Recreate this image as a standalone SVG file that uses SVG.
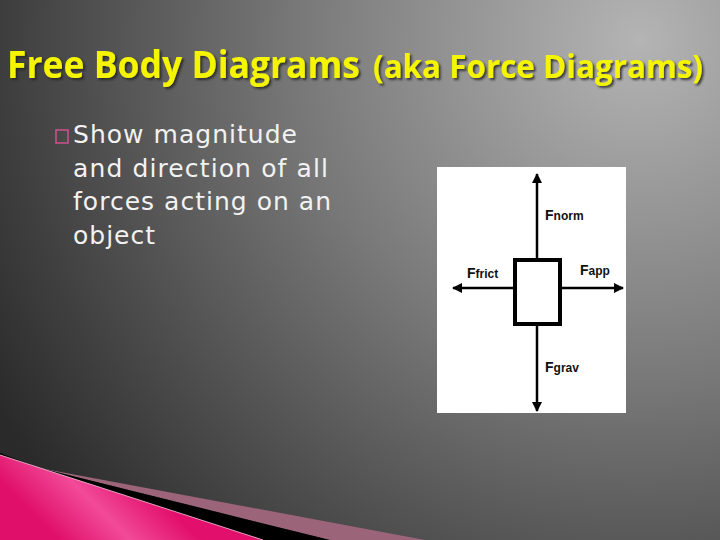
<svg xmlns="http://www.w3.org/2000/svg" width="720" height="540" viewBox="0 0 720 540">
<defs>
<radialGradient id="bg" gradientUnits="userSpaceOnUse" cx="640" cy="40" r="740">
<stop offset="0" stop-color="#b4b4b4"/>
<stop offset="0.45" stop-color="#7a7a7a"/>
<stop offset="0.75" stop-color="#4e4e4e"/>
<stop offset="1" stop-color="#2a2a2a"/>
</radialGradient>
<linearGradient id="pink" gradientUnits="userSpaceOnUse" x1="60" y1="540" x2="130" y2="470">
<stop offset="0" stop-color="#e0106a"/>
<stop offset="0.5" stop-color="#f24a98"/>
<stop offset="1" stop-color="#e2106c"/>
</linearGradient>
<filter id="shadow" x="-5%" y="-20%" width="110%" height="150%">
<feDropShadow dx="2" dy="2" stdDeviation="1" flood-color="#222" flood-opacity="0.8"/>
</filter>
<marker id="ah" viewBox="0 0 10 10" refX="9" refY="5" markerWidth="4" markerHeight="4" orient="auto" markerUnits="strokeWidth">
<path d="M0,0 L10,5 L0,10 z" fill="#000"/>
</marker>
<style>
.title{font-family:"Open Sans","DejaVu Sans",sans-serif;fill:#f5f500;font-weight:bold}
.body{font-family:"DejaVu Sans","Verdana",sans-serif;font-size:25px;fill:#f2f2f2}
.lbl{font-family:"Liberation Sans",Arial,sans-serif;font-weight:bold;fill:#111}
.big{font-size:14px}
.sm{font-size:12px}
.arrow{stroke:#000;stroke-width:2.5;fill:none;marker-end:url(#ah)}
</style>
</defs>
<rect width="720" height="540" fill="url(#bg)"/>
<g id="decor">
<polygon points="50,470 425,540 330,540 40,468" fill="#9c6478"/>
<polygon points="40,468 330,540 263,540 0,455 0,453" fill="#000"/>
<polygon points="0,455 263,540 0,540" fill="url(#pink)"/>
<line x1="0" y1="455" x2="263" y2="540" stroke="#f8c0d8" stroke-width="0.8"/>
</g>
<g id="title" filter="url(#shadow)">
<text class="title" x="7" y="78" font-size="38" textLength="353" lengthAdjust="spacingAndGlyphs">Free Body Diagrams</text>
<text class="title" x="373" y="78" font-size="32" font-weight="600" textLength="330" lengthAdjust="spacingAndGlyphs">(aka Force Diagrams)</text>
</g>
<g id="bullet-text">
<rect x="56" y="130" width="12" height="13" fill="none" stroke="#c8508a" stroke-width="1.6"/>
<text class="body" x="73" y="143" textLength="224" lengthAdjust="spacing">Show magnitude</text>
<text class="body" x="73" y="177" textLength="255" lengthAdjust="spacing">and direction of all</text>
<text class="body" x="73" y="210" textLength="258" lengthAdjust="spacing">forces acting on an</text>
<text class="body" x="73" y="244" textLength="82" lengthAdjust="spacing">object</text>
</g>
<g id="panel">
<rect x="437" y="167" width="189" height="246" fill="#fff"/>
</g>
<g id="connectors">
<line class="arrow" x1="537" y1="258" x2="537" y2="174"/>
<line class="arrow" x1="537" y1="326" x2="537" y2="411"/>
<line class="arrow" x1="513" y1="288" x2="453" y2="288"/>
<line class="arrow" x1="562" y1="288" x2="623" y2="288"/>
</g>
<g id="object">
<rect x="515" y="260" width="45" height="64" fill="#fff" stroke="#000" stroke-width="4"/>
</g>
<g id="labels">
<text class="lbl" x="545" y="220"><tspan class="big">F</tspan><tspan class="sm">norm</tspan></text>
<text class="lbl" x="467" y="278"><tspan class="big">F</tspan><tspan class="sm">frict</tspan></text>
<text class="lbl" x="580" y="275"><tspan class="big">F</tspan><tspan class="sm">app</tspan></text>
<text class="lbl" x="545" y="372"><tspan class="big">F</tspan><tspan class="sm">grav</tspan></text>
</g>
</svg>
